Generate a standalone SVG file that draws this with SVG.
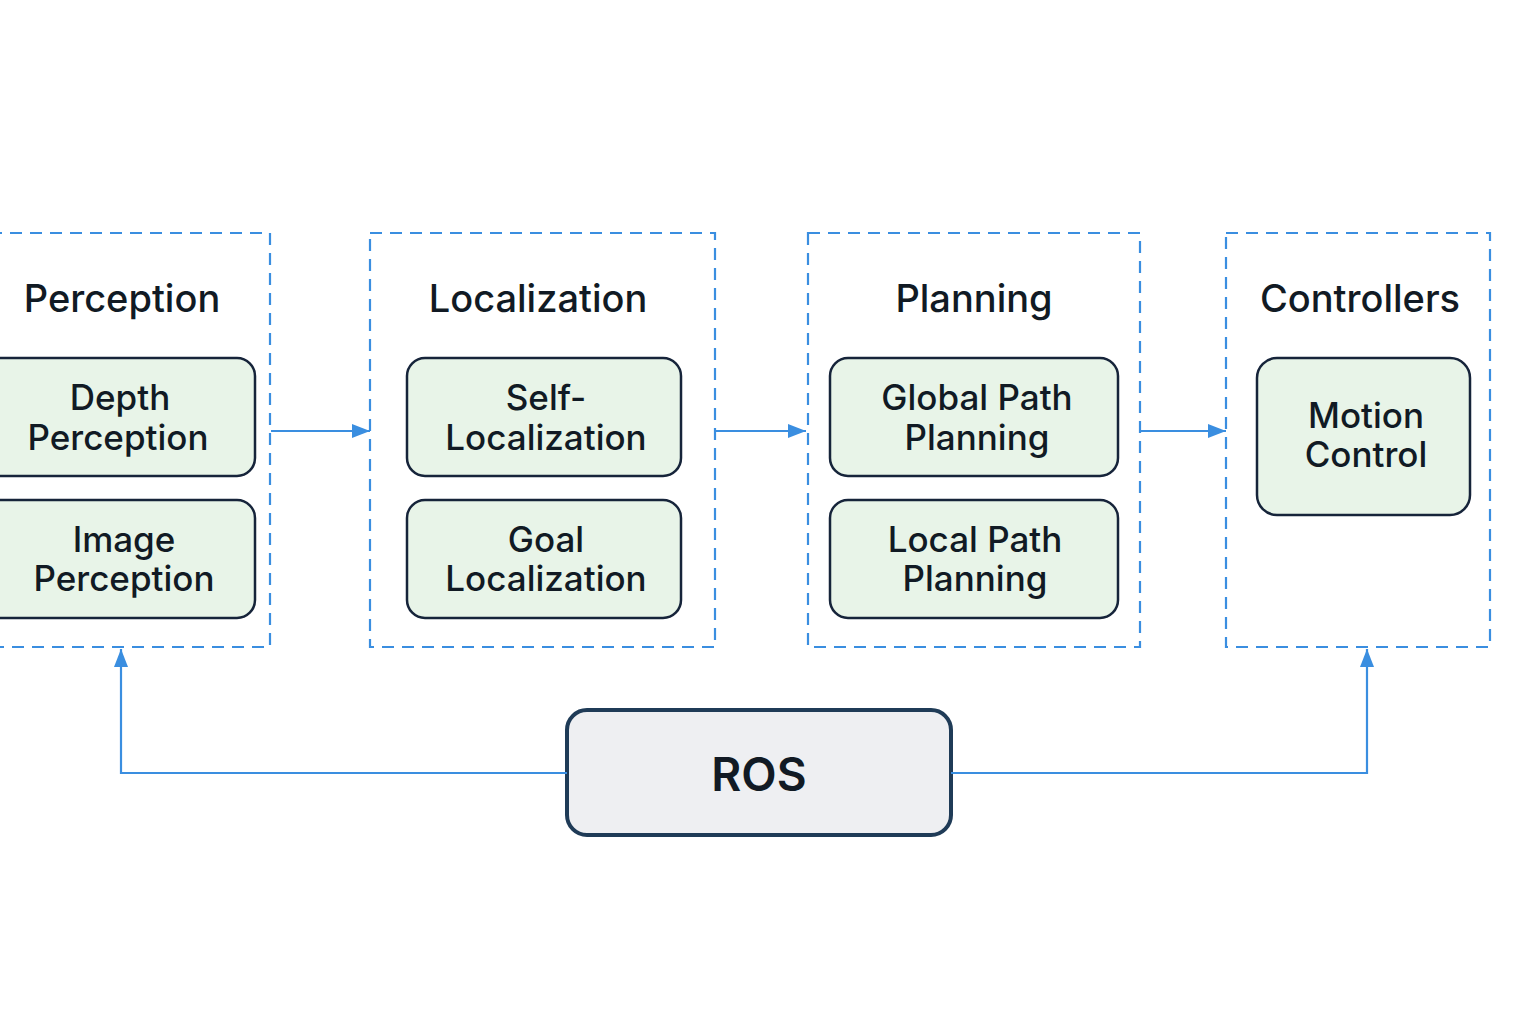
<svg xmlns="http://www.w3.org/2000/svg" width="1536" height="1024" viewBox="0 0 1536 1024">
<defs>
<style>
.grp{fill:none;stroke:#3a8ee0;stroke-width:2.2;stroke-dasharray:12 8}
.node{fill:#e8f4e8;stroke:#16243a;stroke-width:2.5}
.title{font-family:Inter,"Noto Sans",sans-serif;font-size:38px;font-weight:500;fill:#111a24;text-anchor:middle}
.lbl{font-family:Inter,"Noto Sans",sans-serif;font-size:35px;font-weight:500;fill:#111a24;text-anchor:middle}
.conn{fill:none;stroke:#3a8ee0;stroke-width:2.2}
</style>
<marker id="ah" markerWidth="18" markerHeight="14" refX="18" refY="7" orient="auto" markerUnits="userSpaceOnUse">
<path d="M0,0 L18,7 L0,14 Z" fill="#3a8ee0"/>
</marker>
</defs>
<rect width="1536" height="1024" fill="#ffffff"/>
<g id="perception">
<rect class="grp" x="-10" y="233" width="280" height="414"/>
<text class="title" x="122" y="312">Perception</text>
</g>
<g id="depth-perception">
<rect class="node" x="-20" y="358" width="275" height="118" rx="18"/>
<text class="lbl" x="120" y="410">Depth</text>
<text class="lbl" x="118" y="450">Perception</text>
</g>
<g id="image-perception">
<rect class="node" x="-20" y="500" width="275" height="118" rx="18"/>
<text class="lbl" x="124" y="552">Image</text>
<text class="lbl" x="124" y="591">Perception</text>
</g>
<g id="localization">
<rect class="grp" x="370" y="233" width="345" height="414"/>
<text class="title" x="538" y="312">Localization</text>
</g>
<g id="self-localization">
<rect class="node" x="407" y="358" width="274" height="118" rx="18"/>
<text class="lbl" x="546" y="410">Self-</text>
<text class="lbl" x="546" y="450">Localization</text>
</g>
<g id="goal-localization">
<rect class="node" x="407" y="500" width="274" height="118" rx="18"/>
<text class="lbl" x="546" y="552">Goal</text>
<text class="lbl" x="546" y="591">Localization</text>
</g>
<g id="planning">
<rect class="grp" x="808" y="233" width="332" height="414"/>
<text class="title" x="974" y="312">Planning</text>
</g>
<g id="global-path-planning">
<rect class="node" x="830" y="358" width="288" height="118" rx="18"/>
<text class="lbl" x="977" y="410">Global Path</text>
<text class="lbl" x="977" y="450">Planning</text>
</g>
<g id="local-path-planning">
<rect class="node" x="830" y="500" width="288" height="118" rx="18"/>
<text class="lbl" x="975" y="552">Local Path</text>
<text class="lbl" x="975" y="591">Planning</text>
</g>
<g id="controllers">
<rect class="grp" x="1226" y="233" width="264" height="414"/>
<text class="title" x="1360" y="312">Controllers</text>
</g>
<g id="motion-control">
<rect class="node" x="1257" y="358" width="213" height="157" rx="20"/>
<text class="lbl" x="1366" y="428">Motion</text>
<text class="lbl" x="1366" y="467">Control</text>
</g>
<g id="ros">
<rect x="567" y="710" width="384" height="125" rx="20" fill="#eeeff2" stroke="#1f3b57" stroke-width="4"/>
<text x="759" y="791" font-family="Inter,'Noto Sans',sans-serif" font-size="46" font-weight="600" fill="#111a24" text-anchor="middle">ROS</text>
</g>
<g id="connectors">
<line class="conn" x1="271" y1="431" x2="370" y2="431" marker-end="url(#ah)"/>
<line class="conn" x1="716" y1="431" x2="806" y2="431" marker-end="url(#ah)"/>
<line class="conn" x1="1141" y1="431" x2="1226" y2="431" marker-end="url(#ah)"/>
<path class="conn" d="M567,773 H121 V649" marker-end="url(#ah)"/>
<path class="conn" d="M951,773 H1367 V649" marker-end="url(#ah)"/>
</g>
</svg>
